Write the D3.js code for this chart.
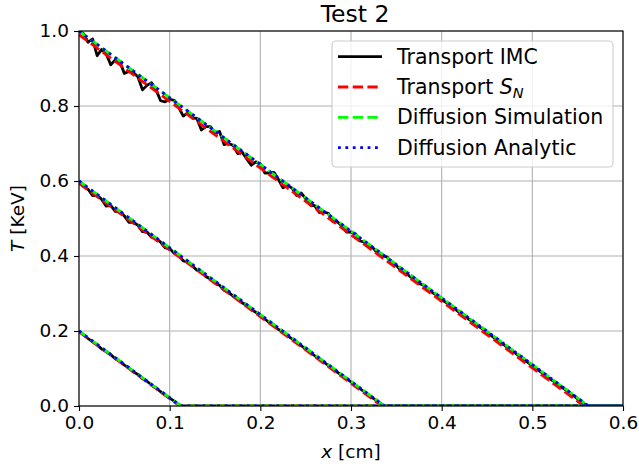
<!DOCTYPE html>
<html>
<head>
<meta charset="utf-8">
<script src="https://cdn.jsdelivr.net/npm/d3@7"></script>
<style>
  html, body { margin: 0; padding: 0; background: #fff; }
  svg { display: block; font-family: "DejaVu Sans", sans-serif; }
</style>
</head>
<body>
<svg id="chart" width="639" height="468"></svg>
<script>
// Temperature profiles T(x) at three times, Test 2.

// Monte Carlo (IMC) samples on a uniform grid, step imcStep in x [cm]
const imcStep = 0.005;
const imcT1 = [
  1.000, 0.993, 0.970, 0.979, 0.934, 0.951, 0.939, 0.910, 0.923, 0.918,
  0.887, 0.892, 0.889, 0.878, 0.843, 0.855, 0.862, 0.843, 0.814, 0.811,
  0.818, 0.815, 0.796, 0.773, 0.782, 0.768, 0.767, 0.736, 0.745, 0.745,
  0.729, 0.732, 0.697, 0.700, 0.695, 0.673, 0.677, 0.659, 0.642, 0.651,
  0.646, 0.621, 0.622, 0.623, 0.604, 0.582, 0.588, 0.581, 0.561, 0.568,
  0.553, 0.536, 0.534, 0.516, 0.517, 0.514, 0.492, 0.491, 0.480, 0.464,
  0.464, 0.459, 0.440, 0.437, 0.424, 0.420, 0.405, 0.401, 0.397, 0.380,
  0.375, 0.361, 0.357, 0.345, 0.338, 0.327, 0.322, 0.311, 0.302, 0.295,
  0.283, 0.276, 0.266, 0.258, 0.248, 0.241, 0.231, 0.223, 0.213, 0.206,
  0.195, 0.187, 0.178, 0.168, 0.161, 0.151, 0.143, 0.134, 0.125, 0.116,
  0.107, 0.098, 0.090, 0.080, 0.071, 0.064, 0.054, 0.046, 0.036, 0.028,
  0.019, 0.010, 0.001, 0.000
];
const imcT2 = [
  0.600, 0.585, 0.578, 0.561, 0.562, 0.551, 0.533, 0.535, 0.519, 0.518,
  0.507, 0.490, 0.490, 0.482, 0.465, 0.464, 0.450, 0.447, 0.437, 0.422,
  0.420, 0.407, 0.402, 0.387, 0.384, 0.374, 0.362, 0.358, 0.345, 0.339,
  0.328, 0.322, 0.309, 0.303, 0.293, 0.286, 0.275, 0.269, 0.258, 0.250,
  0.240, 0.232, 0.222, 0.214, 0.204, 0.198, 0.187, 0.179, 0.170, 0.161,
  0.152, 0.143, 0.134, 0.125, 0.117, 0.108, 0.100, 0.090, 0.082, 0.073,
  0.064, 0.055, 0.046, 0.037, 0.028, 0.020, 0.011, 0.003, 0.000
];
const imcT3 = [
  0.200, 0.190, 0.180, 0.171, 0.163, 0.152, 0.145, 0.137, 0.126, 0.119,
  0.109, 0.102, 0.091, 0.084, 0.073, 0.066, 0.056, 0.048, 0.038, 0.030,
  0.021, 0.013, 0.004, 0.000
];

// Deterministic solutions: linear profiles, [x, T] breakpoints
const snLines = [
  [[0, 0.99], [0.557, 0], [0.6, 0]],
  [[0, 0.594], [0.334, 0], [0.6, 0]],
  [[0, 0.198], [0.111, 0], [0.6, 0]]
];
const diffSimLines = [
  [[0, 1.0], [0.562, 0], [0.6, 0]],
  [[0, 0.6], [0.337, 0], [0.6, 0]],
  [[0, 0.2], [0.1124, 0], [0.6, 0]]
];
const diffAnaLines = [
  [[0, 1.0], [0.562, 0], [0.6, 0]],
  [[0, 0.6], [0.337, 0], [0.6, 0]],
  [[0, 0.2], [0.1124, 0], [0.6, 0]]
];

const xTicks = [0, 0.1, 0.2, 0.3, 0.4, 0.5, 0.6];
const yTicks = [0, 0.2, 0.4, 0.6, 0.8, 1.0];
const legendLabels = ["Transport IMC", "Transport S_N", "Diffusion Simulation", "Diffusion Analytic"];

// ---- layout ----
const W = 639, H = 468;
const margin = { left: 79, right: 16, top: 31, bottom: 62 };
const x = d3.scaleLinear().domain([0, 0.6]).range([margin.left, W - margin.right]);
const y = d3.scaleLinear().domain([0, 1]).range([H - margin.bottom, margin.top]);

const svg = d3.select("#chart");

const lw = 2.8;
const styles = {
  imc: { color: "#000000", dash: null },
  sn: { color: "#ff0000", dash: "10.3,4.4" },
  sim: { color: "#00ff00", dash: "10.3,4.4" },
  ana: { color: "#0000ff", dash: "2.8,4.6" }
};

svg.append("defs").append("clipPath").attr("id", "plotClip")
  .append("rect")
  .attr("x", x(0)).attr("y", y(1))
  .attr("width", x(0.6) - x(0)).attr("height", y(0) - y(1));

// grid
const grid = svg.append("g").attr("stroke", "#b0b0b0").attr("stroke-width", 1.1);
grid.selectAll("line.gx").data(xTicks).join("line")
  .attr("x1", d => x(d)).attr("x2", d => x(d))
  .attr("y1", y(0)).attr("y2", y(1));
grid.selectAll("line.gy").data(yTicks).join("line")
  .attr("x1", x(0)).attr("x2", x(0.6))
  .attr("y1", d => y(d)).attr("y2", d => y(d));

// curves
const line = d3.line().x(d => x(d[0])).y(d => y(d[1]));
const plot = svg.append("g").attr("clip-path", "url(#plotClip)");

function imcPoints(vals) {
  const pts = vals.map((v, i) => [i * imcStep, v]);
  pts.push([0.6, 0]);
  return pts;
}

[imcT1, imcT2, imcT3].forEach(vals => {
  plot.append("path").datum(imcPoints(vals))
    .attr("d", line).attr("fill", "none")
    .attr("stroke", styles.imc.color).attr("stroke-width", lw)
    .attr("stroke-linejoin", "round");
});

function drawSet(set, st) {
  set.forEach(pts => {
    plot.append("path").datum(pts)
      .attr("d", line).attr("fill", "none")
      .attr("stroke", st.color).attr("stroke-width", lw)
      .attr("stroke-dasharray", st.dash);
  });
}
drawSet(snLines, styles.sn);
drawSet(diffSimLines, styles.sim);
drawSet(diffAnaLines, styles.ana);

// axes
const fmt = d3.format(".1f");
const xAxis = svg.append("g").attr("transform", `translate(0,${y(0)})`)
  .call(d3.axisBottom(x).tickValues(xTicks).tickFormat(fmt).tickSize(5).tickPadding(5));
const yAxis = svg.append("g").attr("transform", `translate(${x(0)},0)`)
  .call(d3.axisLeft(y).tickValues(yTicks).tickFormat(fmt).tickSize(5).tickPadding(5));
[xAxis, yAxis].forEach(g => {
  g.select(".domain").remove();
  g.selectAll(".tick line").attr("stroke", "#000").attr("stroke-width", 1.1);
  g.selectAll(".tick text").attr("font-size", 18.5).attr("fill", "#000")
    .attr("font-family", "DejaVu Sans");
});

// frame
svg.append("rect")
  .attr("x", x(0)).attr("y", y(1))
  .attr("width", x(0.6) - x(0)).attr("height", y(0) - y(1))
  .attr("fill", "none").attr("stroke", "#000").attr("stroke-width", 1.1);

// title and axis labels
svg.append("text").attr("x", (x(0) + x(0.6)) / 2 + 4).attr("y", 22)
  .attr("text-anchor", "middle").attr("font-size", 23.5).text("Test 2");

const xl = svg.append("text").attr("x", (x(0) + x(0.6)) / 2).attr("y", 458)
  .attr("text-anchor", "middle").attr("font-size", 18.5);
xl.append("tspan").attr("font-style", "italic").text("x");
xl.append("tspan").text(" [cm]");

const yl = svg.append("text")
  .attr("transform", `translate(24,${(y(0) + y(1)) / 2}) rotate(-90)`)
  .attr("text-anchor", "middle").attr("font-size", 18.5);
yl.append("tspan").attr("font-style", "italic").text("T");
yl.append("tspan").text(" [KeV]");

// legend
const lg = svg.append("g");
lg.append("rect").attr("x", 332).attr("y", 41).attr("width", 281).attr("height", 126)
  .attr("rx", 4).attr("fill", "#fff").attr("fill-opacity", 0.8)
  .attr("stroke", "#cccccc").attr("stroke-width", 1.1);
const legStyles = [styles.imc, styles.sn, styles.sim, styles.ana];
legendLabels.forEach((lab, i) => {
  const cy = 56.7 + i * 30.3;
  lg.append("line").attr("x1", 338).attr("x2", 382).attr("y1", cy).attr("y2", cy)
    .attr("stroke", legStyles[i].color).attr("stroke-width", lw)
    .attr("stroke-dasharray", legStyles[i].dash);
  const t = lg.append("text").attr("x", 397).attr("y", cy + 7).attr("font-size", 20.5);
  if (lab === "Transport S_N") {
    t.append("tspan").text("Transport ");
    t.append("tspan").attr("font-style", "italic").text("S");
    t.append("tspan").attr("font-style", "italic").attr("font-size", 14.5).attr("dy", 4).text("N");
  } else {
    t.text(lab);
  }
});
</script>
</body>
</html>
